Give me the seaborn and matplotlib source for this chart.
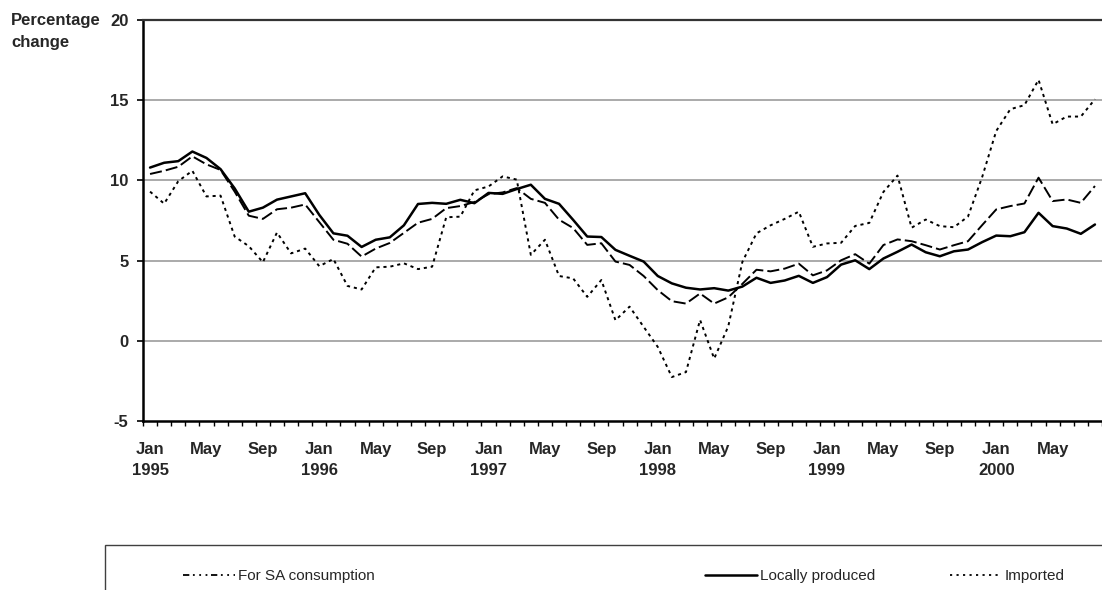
import numpy as np
import pandas as pd
import matplotlib
matplotlib.use("Agg")
import matplotlib.pyplot as plt
from matplotlib.lines import Line2D
from matplotlib.patches import Rectangle
import seaborn as sns

# ---- data (monthly, Jan 1995 - Aug 2000) ----
years = list(range(1995, 2001))
month_names = ["Jan", "Feb", "Mar", "Apr", "May", "Jun", "Jul", "Aug", "Sep", "Oct", "Nov", "Dec"]

sa_consumption = [10.4, 10.6, 10.85, 11.5, 11.0, 10.65, 9.3, 7.8, 7.6, 8.2, 8.3, 8.5,
                  7.4, 6.3, 6.05, 5.25, 5.75, 6.1, 6.73, 7.36, 7.6, 8.27, 8.4, 8.65,
                  9.14, 9.25, 9.52, 8.85, 8.6, 7.55, 7.03, 5.98, 6.08, 4.94, 4.73, 4.04,
                  3.16, 2.47, 2.32, 2.95, 2.32, 2.71, 3.55, 4.43, 4.33, 4.5, 4.81, 4.08,
                  4.39, 5.02, 5.4, 4.81, 5.97, 6.32, 6.21, 5.96, 5.69, 5.96, 6.21, 7.21,
                  8.19, 8.4, 8.56, 10.17, 8.71, 8.81, 8.6, 9.65]

locally_produced = [10.8, 11.1, 11.2, 11.8, 11.4, 10.7, 9.5, 8.05, 8.3, 8.8, 9.0, 9.2,
                    7.85, 6.7, 6.55, 5.85, 6.3, 6.45, 7.2, 8.53, 8.6, 8.54, 8.79, 8.58,
                    9.22, 9.16, 9.46, 9.73, 8.85, 8.54, 7.54, 6.5, 6.47, 5.67, 5.3, 4.94,
                    4.04, 3.58, 3.31, 3.2, 3.28, 3.13, 3.38, 3.93, 3.61, 3.76, 4.05, 3.61,
                    3.97, 4.75, 5.02, 4.47, 5.13, 5.55, 6.0, 5.52, 5.27, 5.58, 5.69, 6.15,
                    6.56, 6.52, 6.77, 7.98, 7.15, 7.0, 6.67, 7.25]

imported = [9.3, 8.55, 9.95, 10.6, 9.0, 9.05, 6.5, 5.9, 4.9, 6.75, 5.45, 5.75,
            4.65, 5.1, 3.42, 3.2, 4.58, 4.62, 4.83, 4.47, 4.62, 7.7, 7.74, 9.38,
            9.62, 10.25, 10.05, 5.36, 6.3, 4.04, 3.89, 2.74, 3.79, 1.28, 2.13, 0.87,
            -0.38, -2.26, -1.95, 1.3, -1.11, 0.9, 4.92, 6.7, 7.2, 7.6, 8.05, 5.86,
            6.07, 6.11, 7.16, 7.35, 9.28, 10.3, 7.05, 7.56, 7.15, 7.08, 7.75, 10.2,
            13.08, 14.44, 14.69, 16.27, 13.5, 13.98, 13.98, 15.06]

y_ticks = [-5, 0, 5, 10, 15, 20]
series_names = ["For SA consumption", "Locally produced", "Imported"]

n = len(locally_produced)
idx = np.arange(n)
df = pd.DataFrame({"idx": np.tile(idx, 3),
                   "value": sa_consumption + locally_produced + imported,
                   "series": np.repeat(series_names, n)})

# ---- figure ----
sns.set_theme(style="white")
plt.rcParams["font.family"] = ["Liberation Sans", "DejaVu Sans"]

W, H = 1102, 590
fig = plt.figure(figsize=(W / 100, H / 100), dpi=100)
ax = fig.add_axes([143 / W, (H - 421) / H, (W - 143) / W, (421 - 20) / H])

styles = {
    "For SA consumption": dict(lw=1.4, dashes=(6.2, 2.1)),
    "Locally produced": dict(lw=1.8, dashes=None),
    "Imported": dict(lw=1.4, dashes=(1.6, 2.0)),
}

for name in series_names:
    sub = df[df["series"] == name]
    st = styles[name]
    sns.lineplot(data=sub, x="idx", y="value", ax=ax, color="black",
                 lw=st["lw"], legend=False)
    line = ax.get_lines()[-1]
    if st["dashes"] is not None:
        line.set_dashes(st["dashes"])
    line.set_zorder(3)

ax.set_xlim(-0.5, n - 1)
ax.set_ylim(-5, 20)

# gridlines
for yv in [0, 5, 10, 15]:
    ax.axhline(yv, color="#9c9c9c", lw=1.2, zorder=1)

# ticks
ax.set_yticks(y_ticks)
ax.set_yticklabels([str(v) for v in y_ticks], fontweight="bold", fontsize=12)
ax.tick_params(axis="y", which="major", direction="out", length=4.5, width=1.2,
               color="black", pad=6, left=True)

major = list(range(0, n, 4))
labels = []
for i in major:
    m = month_names[i % 12]
    if m == "Jan":
        labels.append(f"{m}\n{years[i // 12]}")
    else:
        labels.append(m)
ax.set_xticks(major)
ax.set_xticklabels(labels, fontweight="bold", fontsize=12, linespacing=1.5,
                   va="top")
ax.tick_params(axis="x", which="major", length=0, pad=15)
ax.set_xticks(np.arange(-0.5, n, 1), minor=True)
ax.tick_params(axis="x", which="minor", direction="out", length=3.5, width=1.0,
               color="black", bottom=True)
ax.set_xlabel("")
ax.set_ylabel("")

for side in ["left", "bottom"]:
    ax.spines[side].set_color("black")
    ax.spines[side].set_linewidth(1.8)
ax.spines["top"].set_color("#333333")
ax.spines["top"].set_linewidth(1.6)
ax.spines["right"].set_visible(False)

# y-axis title
fig.text(11 / W, 1 - 21 / H, "Percentage", fontweight="bold", fontsize=12,
         ha="left", va="center")
fig.text(11 / W, 1 - 42 / H, "change", fontweight="bold", fontsize=12,
         ha="left", va="center")

# legend box (extends beyond the bottom/right edges)
fig.patches.append(Rectangle((105 / W, -0.2), 1.2, 0.2 + (H - 545) / H,
                             transform=fig.transFigure, fill=False,
                             edgecolor="#404040", lw=1.0, clip_on=False))

leg_specs = [
    ("For SA consumption", Line2D([], [], color="black", lw=1.3,
                                  dashes=(3.5, 2.0, 1.0, 2.5, 1.0, 2.5, 1.0, 2.0)), 183),
    ("Locally produced", Line2D([], [], color="black", lw=1.8), 705),
    ("Imported", Line2D([], [], color="black", lw=1.3, dashes=(1.2, 2.4)), 950),
]
for label, handle, x0 in leg_specs:
    lg = fig.legend([handle], [label], loc="center left",
                    bbox_to_anchor=(x0 / W, 1 - 576 / H), frameon=False,
                    fontsize=11, handlelength=3.4, handletextpad=0.2,
                    borderpad=0, borderaxespad=0)

fig.savefig("out.png", dpi=100)
